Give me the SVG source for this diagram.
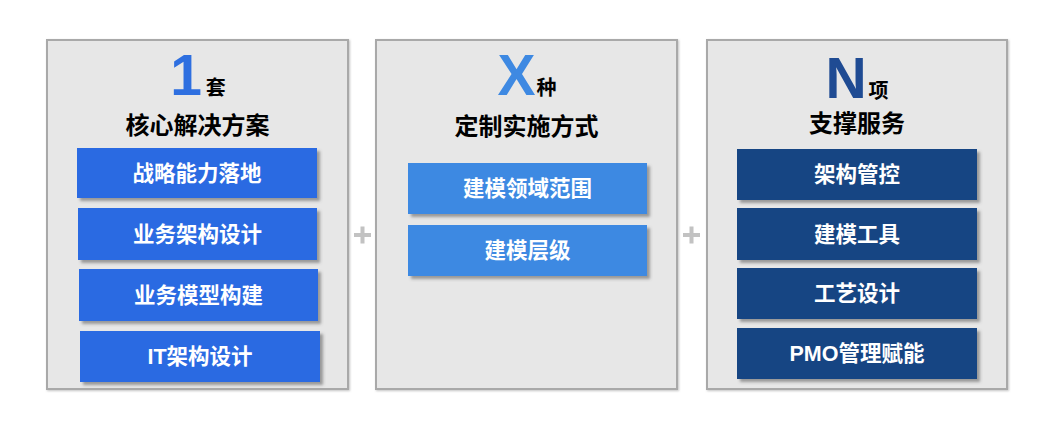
<svg xmlns="http://www.w3.org/2000/svg" width="1050" height="436" viewBox="0 0 1050 436">
<defs>
<filter id="sh" x="-10%" y="-20%" width="130%" height="150%">
<feDropShadow dx="3" dy="3" stdDeviation="1.5" flood-color="#555" flood-opacity="0.55"/>
</filter>
<filter id="psh" x="-5%" y="-5%" width="110%" height="110%">
<feDropShadow dx="1" dy="1" stdDeviation="1" flood-color="#888" flood-opacity="0.5"/>
</filter>
</defs>
<style>
.panel{fill:#e7e7e7;stroke:#a9a9a9;stroke-width:2}
.t{font-family:"Liberation Sans","Noto Sans CJK SC",sans-serif;font-weight:bold}
.big{font-size:57px}
.unit{font-size:20px;fill:#000}
.title{font-size:24px;fill:#000;text-anchor:middle}
.bt{font-size:21.5px;fill:#fff;text-anchor:middle}
.b1{fill:#2a6ae2}
.b2{fill:#3e89e2}
.b3{fill:#164483}
.plus{fill:#c2c2c2}
</style>
<rect width="1050" height="436" fill="#ffffff"/>
<g id="connectors">
<g id="plus1"><rect class="plus" x="354" y="233" width="17" height="4"/><rect class="plus" x="360.5" y="226.5" width="4" height="17"/></g>
<g id="plus2"><rect class="plus" x="683" y="233" width="17" height="4"/><rect class="plus" x="689.5" y="226.5" width="4" height="17"/></g>
</g>
<g id="panel1">
<rect class="panel" x="47" y="40" width="301" height="349" filter="url(#psh)"/>
<text class="t" x="198" y="95" text-anchor="middle"><tspan class="big" fill="#2e6fe0">1</tspan><tspan class="unit" dx="4">套</tspan></text>
<text class="t title" x="197.5" y="134">核心解决方案</text>
<g id="p1b1"><rect class="b1" x="77" y="148" width="240" height="50" filter="url(#sh)"/><text class="t bt" x="197" y="180.5">战略能力落地</text></g>
<g id="p1b2"><rect class="b1" x="78" y="208" width="239" height="52" filter="url(#sh)"/><text class="t bt" x="197.5" y="241.5">业务架构设计</text></g>
<g id="p1b3"><rect class="b1" x="79" y="269" width="239" height="52" filter="url(#sh)"/><text class="t bt" x="198.5" y="302.5">业务模型构建</text></g>
<g id="p1b4"><rect class="b1" x="80" y="331" width="240" height="51" filter="url(#sh)"/><text class="t bt" x="200" y="364">IT架构设计</text></g>
</g>
<g id="panel2">
<rect class="panel" x="376" y="40" width="301" height="349" filter="url(#psh)"/>
<text class="t" x="527" y="95" text-anchor="middle"><tspan class="big" fill="#3e89e2">X</tspan><tspan class="unit" dx="1">种</tspan></text>
<text class="t title" x="526.5" y="135">定制实施方式</text>
<g id="p2b1"><rect class="b2" x="408" y="163" width="239" height="51" filter="url(#sh)"/><text class="t bt" x="527.5" y="196">建模领域范围</text></g>
<g id="p2b2"><rect class="b2" x="408" y="225" width="239" height="51" filter="url(#sh)"/><text class="t bt" x="527.5" y="258">建模层级</text></g>
</g>
<g id="panel3">
<rect class="panel" x="707" y="40" width="300" height="349" filter="url(#psh)"/>
<text class="t" x="857" y="98" text-anchor="middle"><tspan class="big" fill="#1f4b93">N</tspan><tspan class="unit" dx="2">项</tspan></text>
<text class="t title" x="857" y="132">支撑服务</text>
<g id="p3b1"><rect class="b3" x="737" y="149" width="240" height="51" filter="url(#sh)"/><text class="t bt" x="857" y="182">架构管控</text></g>
<g id="p3b2"><rect class="b3" x="737" y="208" width="240" height="52" filter="url(#sh)"/><text class="t bt" x="857" y="241.5">建模工具</text></g>
<g id="p3b3"><rect class="b3" x="737" y="268" width="240" height="51" filter="url(#sh)"/><text class="t bt" x="857" y="301">工艺设计</text></g>
<g id="p3b4"><rect class="b3" x="737" y="328" width="240" height="51" filter="url(#sh)"/><text class="t bt" x="857" y="361">PMO管理赋能</text></g>
</g>
</svg>
